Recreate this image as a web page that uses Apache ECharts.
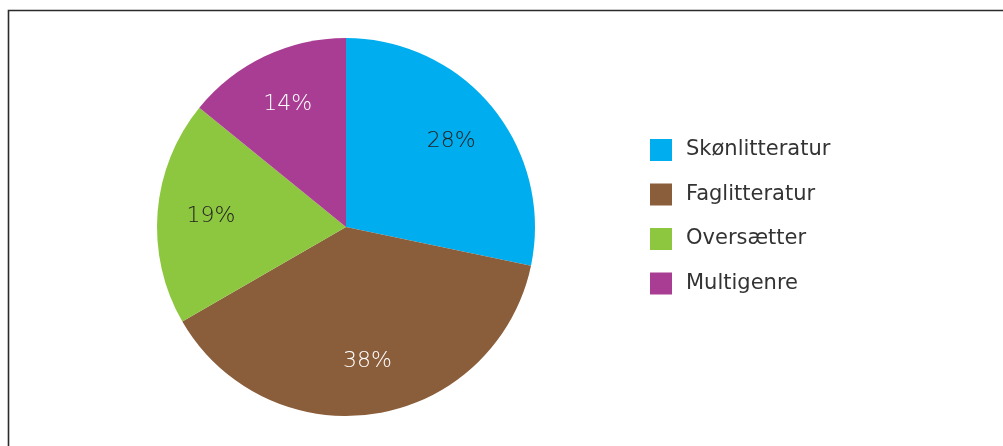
<!DOCTYPE html>
<html>
<head>
<meta charset="utf-8">
<script src="https://cdn.jsdelivr.net/npm/echarts@6/dist/echarts.min.js"></script>
<style>
  html, body { margin: 0; padding: 0; background: #fff; }
  #chart { width: 1003px; height: 446px; }
</style>
</head>
<body>
<div id="chart"></div>
<script>
const categories = ["Skønlitteratur", "Faglitteratur", "Oversætter", "Multigenre"];
const shares = [28, 38, 19, 14];
const colors = ["#00aeef", "#8a5d3b", "#8dc63f", "#a93d93"];
const labelColors = ["#222222", "#ffffff", "#222222", "#ffffff"];

const chart = echarts.init(document.getElementById("chart"));

const pieData = categories.map((name, i) => ({
    name: name,
    value: shares[i],
    itemStyle: { color: colors[i] }
}));

// second ring only carries the labels, so they sit further out than the default
const labelData = categories.map((name, i) => ({
    name: name,
    value: shares[i],
    label: { color: labelColors[i] }
}));

chart.setOption({
    animation: false,
    graphic: [
        {
            type: "rect",
            shape: { x: 8.5, y: 10.5, width: 1200, height: 600 },
            style: { fill: "none", stroke: "#2b2b2b", lineWidth: 1.6 },
            silent: true
        }
    ],
    legend: {
        orient: "vertical",
        left: 650,
        top: 139,
        padding: 0,
        itemWidth: 22,
        itemHeight: 22,
        itemGap: 22.5,
        icon: "rect",
        data: categories,
        textStyle: {
            fontFamily: "DejaVu Sans",
            fontSize: 21,
            color: "#333333",
            padding: [0, 0, 0, 9]
        }
    },
    series: [
        {
            type: "pie",
            center: [346, 227],
            radius: [0, 189],
            startAngle: 90,
            clockwise: true,
            label: { show: false },
            labelLine: { show: false },
            emphasis: { disabled: true },
            data: pieData
        },
        {
            type: "pie",
            center: [346, 227],
            radius: [76, 189],
            startAngle: 90,
            clockwise: true,
            silent: true,
            itemStyle: { color: "transparent" },
            label: {
                show: true,
                position: "inside",
                formatter: "{c}%",
                fontFamily: "DejaVu Sans",
                fontSize: 22,
                fontWeight: 300
            },
            labelLine: { show: false },
            emphasis: { disabled: true },
            data: labelData
        }
    ]
});
</script>
</body>
</html>
